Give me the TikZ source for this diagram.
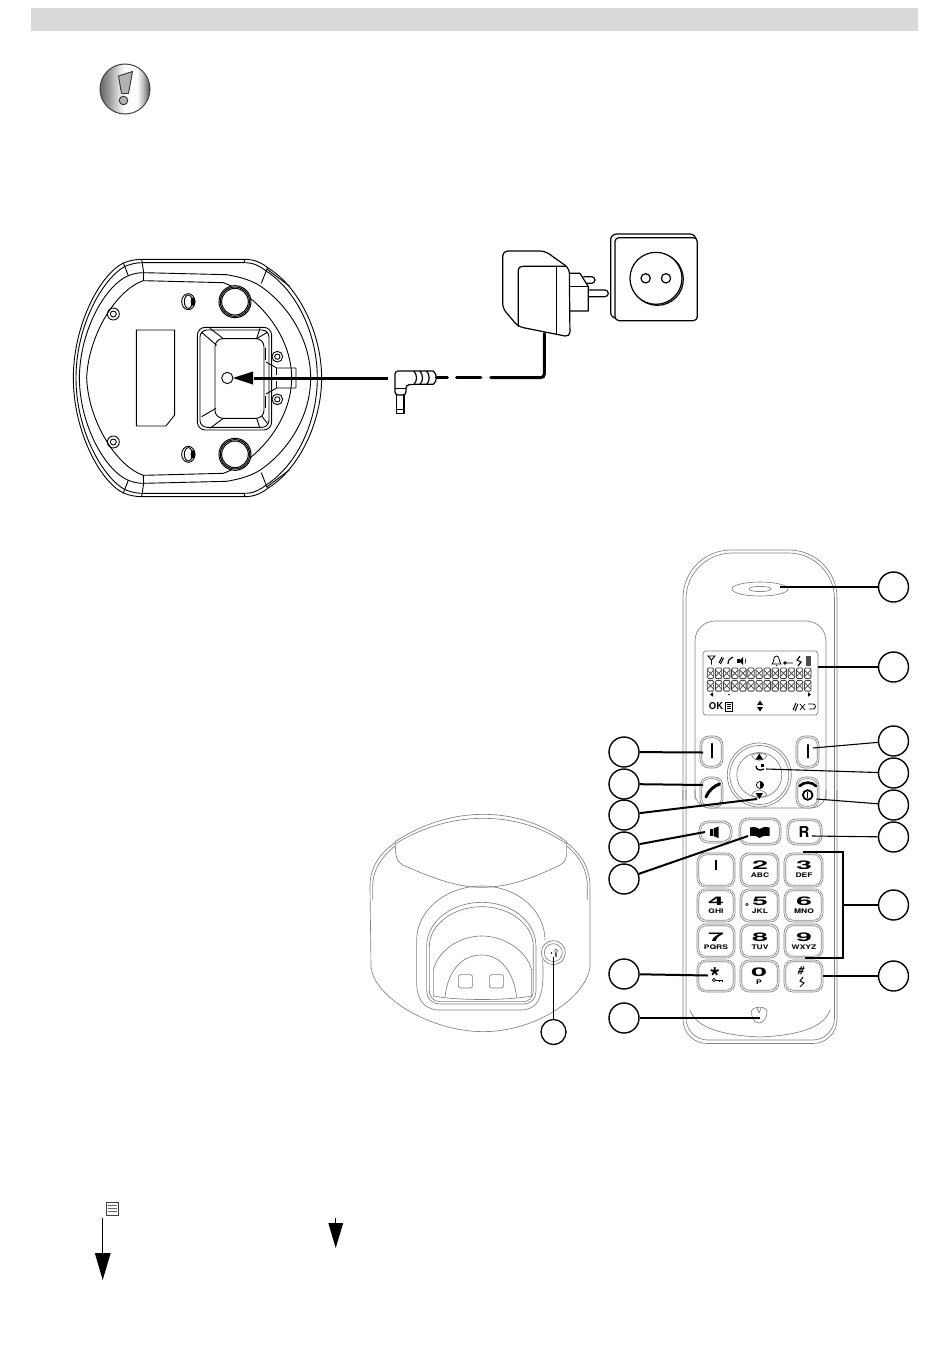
\documentclass[tikz,border=0pt]{standalone}
\usepackage{fontspec}
\setmainfont{TeX Gyre Heros}
\pgfdeclarehorizontalshading{warnshade}{100bp}{
  color(0bp)=(black!60);
  color(25bp)=(black!60);
  color(33bp)=(black!42);
  color(45bp)=(black!10);
  color(50bp)=(white);
  color(62bp)=(white);
  color(68bp)=(black!25);
  color(75bp)=(black!70);
  color(100bp)=(black!70)}
\tikzset{
  baseline/.style={line width=0.9pt,black,line join=round},
  handline/.style={line width=0.65pt,black!50,line join=round},
  keyline/.style={line width=0.65pt,black!50},
  callout/.style={circle,draw=black,line width=1.4pt,minimum size=30pt,inner sep=0pt,fill=white},
  smallcallout/.style={circle,draw=black,line width=1.3pt,minimum size=25pt,inner sep=0pt,fill=white},
  lead/.style={line width=2pt,black},
  thinlead/.style={line width=1.1pt,black},
  cable/.style={line width=3pt,black,line cap=round},
  glyph/.style={inner sep=0pt,font=\bfseries},
  klabel/.style={inner sep=0pt},
}
\newcommand{\keybox}[4]{%
  \draw[keyline,rounded corners=9pt,fill=white] (#1,#2) rectangle (#3,#4);
  \draw[keyline,rounded corners=7.5pt] (#1+1.8,#2+1.8) rectangle (#3-1.8,#4-1.8);}
\newcommand{\dg}[1]{\scalebox{2.05}[0.85]{\fontsize{14}{14}\selectfont\bfseries #1}}
\newcommand{\kl}[1]{\scalebox{1.35}[1]{\fontsize{6.3}{7}\selectfont\bfseries #1}}
\begin{document}
\begin{tikzpicture}[x=1pt,y=-1pt]
\useasboundingbox (0,0) rectangle (950,1372);
\fill[white] (0,0) rectangle (950,1372);
% header bar
\fill[black!15] (31,8) rectangle (918,31);
% warning icon
\shade[shading=warnshade] (125,89) circle (25);
\draw[line width=1pt,black!75] (125,89) circle (25);
\draw[line width=0.9pt,black!80,fill=black!30,line join=round] (118.5,76) -- (132.5,71.5) -- (128.5,93.5) -- (121.5,93.5) -- cycle;
\draw[line width=0.9pt,black!80,fill=black!30] (123.5,100.5) circle (4.3);

% ---------- base underside ----------
\foreach \s in {1,-1}{
\begin{scope}[shift={(60,378)},x=.3333pt,y=.3333pt,yscale=\s]
  \draw[baseline] (40,0) .. controls (40,160) and (120,310) .. (190,345) .. controls (210,353) and (228,356) .. (245,356) -- (555,356) .. controls (585,356) and (605,345) .. (625,330) .. controls (720,270) and (785,130) .. (785,0);
  \draw[baseline] (48,0) .. controls (48,160) and (130,300) .. (195,335) .. controls (215,343) and (230,346) .. (247,346) -- (553,346) .. controls (583,346) and (600,335) .. (620,320) .. controls (712,260) and (772,130) .. (772,0);
  \draw[baseline] (58,0) .. controls (60,150) and (140,280) .. (205,307) .. controls (220,313) and (235,316) .. (250,316) -- (500,310) .. controls (560,300) and (590,285) .. (612,268) .. controls (690,210) and (752,110) .. (752,0);
  \draw[baseline] (80,0) .. controls (85,130) and (170,265) .. (250,292) -- (490,286) .. controls (590,250) and (695,130) .. (695,0);
  \draw[baseline] (245,356) -- (251,316) -- (250,292);
  \draw[baseline] (555,356) -- (552,346);
  \draw[baseline] (622,330) -- (604,284);
  \draw[baseline] (622,326) -- (688,276);
  \draw[baseline] (190,345) -- (205,307);
  % foot
  \draw[line width=1pt,fill=white] (525,229) circle (48);
  \draw[line width=1pt] (525,229) circle (44);
  \draw[line width=1pt] (525,229) circle (40);
  % screws
  \draw[baseline] (160,192) circle (18);
  \draw[baseline] (160,192) circle (9);
  \draw[baseline,fill=white] (652,64) circle (16);
  \draw[baseline] (652,64) circle (8);
  % nub
  \draw[baseline] (385,229) ellipse (20 and 24);
  \fill[black] (399,229) ellipse (7 and 13);
  \draw[baseline] (385,229) ellipse (12 and 20);
  % notch
  \draw[baseline] (618,48) -- (650,30) -- (708,30) -- (708,0);
  \draw[baseline] (650,30) -- (650,10);
  \draw[baseline] (615,90) -- (615,55);
\end{scope}}
\begin{scope}[shift={(60,240)},x=.3333pt,y=-.3333pt]
  \draw[baseline] (229,270) -- (344,270) -- (344,525) -- (318,558) -- (229,558) -- cycle;
  \draw[baseline,rounded corners=8pt] (412,262) rectangle (635,570);
  \draw[baseline,rounded corners=7pt] (420,270) rectangle (627,562);
  \draw[baseline,rounded corners=8pt] (465,296) rectangle (612,535);
  \draw[baseline] (425,277) -- (470,316);
  \draw[baseline] (450,265) -- (490,296);
  \draw[baseline] (622,277) -- (590,296);
  \draw[baseline] (600,265) -- (590,296);
  \draw[baseline] (425,530) -- (468,505);
  \draw[baseline] (450,565) -- (490,535);
  \draw[baseline] (600,565) -- (590,535);
  \draw[baseline] (622,550) -- (605,528);
  \draw[baseline] (502,414) circle (17);
\end{scope}
% plug arrow
\coordinate (holeend) at (233,378);
\coordinate (cableA) at (388,378);
\draw[line width=3pt,black] (cableA) -- (254,378);
\fill[black] (holeend) -- (253,371.5) -- (253,384.5) -- cycle;

% ---------- adapter and socket ----------
\begin{scope}[shift={(380,225)},x=.3333pt,y=-.3333pt]
  \draw[baseline,line width=1.2pt,rounded corners=5pt] (368,78) -- (495,78) -- (568,130) -- (570,336) -- (415,305) -- (368,250) -- cycle;
  \draw[baseline,line width=1.2pt] (415,305) -- (415,135) .. controls (415,128) and (420,124) .. (428,124) -- (560,124);
  \draw[baseline,line width=1.2pt] (530,124) -- (530,328);
  \draw[baseline,line width=1.2pt] (570,145) -- (600,145) -- (625,185) -- (625,258) -- (570,258);
  \draw[baseline,line width=1.2pt] (570,185) -- (625,185);
  \draw[baseline,line width=1.2pt] (610,155) -- (635,155) arc (-90:90:10) -- (618,175);
  \draw[baseline,line width=1.2pt] (625,195) -- (675,195) arc (-90:90:10) -- (625,215);
  \draw[baseline,line width=1.2pt,rounded corners=6pt] (692,27) rectangle (948,280);
  \draw[baseline,line width=1.2pt,rounded corners=4pt,fill=white] (705,38) rectangle (952,287);
  \draw[baseline,line width=1.2pt] (832,163) circle (78);
  \draw[baseline,line width=1.2pt,fill=white] (828,160) circle (78);
  \draw[baseline,line width=1.2pt] (797,160) circle (14);
  \draw[baseline,line width=1.2pt] (858,160) circle (14);
  % cable
  \draw[cable] (170,458) -- (202,458);
  \draw[cable] (230,458) -- (303,458);
  \draw[cable,rounded corners=3.5pt] (332,458) -- (493,458) -- (493,326);
  % jack
  \draw[baseline,line width=1.2pt,rounded corners=3pt] (102,438) -- (45,438) -- (45,510) -- (78,510) -- (78,480) -- (102,478);
  \draw[baseline,line width=1.2pt] (45,490) -- (78,490);
  \draw[baseline,line width=1.2pt] (102,438) .. controls (112,450) and (112,468) .. (102,478);
  \draw[baseline,line width=1.2pt] (102,438) -- (160,438) .. controls (172,450) and (172,468) .. (160,478) -- (102,478);
  \draw[baseline,line width=1.2pt] (120,438) .. controls (130,450) and (130,468) .. (120,478);
  \draw[baseline,line width=1.2pt] (140,438) .. controls (150,450) and (150,468) .. (140,478);
  \draw[baseline,line width=1.2pt] (50,510) -- (50,565) -- (72,565) -- (72,510);
  \draw[baseline,line width=1pt] (50,555) -- (72,555);
\end{scope}

% ---------- base station (front) ----------
\begin{scope}[shift={(360,800)},x=.3333pt,y=-.3333pt,every path/.style={handline}]
  \draw (105,125) .. controls (190,70) and (280,43) .. (370,43) .. controls (460,43) and (545,70) .. (620,125);
  \draw (105,132) .. controls (190,80) and (280,55) .. (370,55) .. controls (460,55) and (545,80) .. (620,132);
  \draw (105,128) .. controls (60,160) and (30,200) .. (30,260) -- (33,500) .. controls (40,590) and (210,695) .. (370,695) .. controls (530,695) and (680,590) .. (690,500) -- (690,260) .. controls (690,200) and (660,160) .. (620,128);
  \draw (105,138) .. controls (65,170) and (38,210) .. (38,260) -- (38,300);
  \draw (620,138) .. controls (660,170) and (682,210) .. (682,260) -- (682,300);
  \draw (105,125) -- (108,165) .. controls (110,185) and (125,195) .. (140,200) .. controls (230,240) and (300,262) .. (365,262) .. controls (440,262) and (510,238) .. (590,200) .. controls (605,194) and (618,185) .. (620,165) -- (620,125);
  \draw (170,420) .. controls (170,330) and (260,258) .. (365,258) .. controls (470,258) and (555,330) .. (555,420);
  \draw (170,420) -- (170,550) .. controls (172,610) and (200,625) .. (230,630) -- (490,630) .. controls (530,625) and (555,600) .. (548,480);
  \draw (200,440) .. controls (200,360) and (280,307) .. (365,307) .. controls (450,307) and (528,360) .. (528,440) -- (528,570) .. controls (528,600) and (510,612) .. (490,612) -- (240,612) .. controls (220,612) and (200,600) .. (200,570) -- cycle;
  \draw (208,440) .. controls (208,370) and (285,320) .. (365,320) .. controls (445,320) and (520,370) .. (520,440) -- (520,570) .. controls (520,595) and (505,605) .. (490,605) -- (240,605) .. controls (225,605) and (208,595) .. (208,570) -- cycle;
  \draw (220,590) -- (220,510) .. controls (235,450) and (300,408) .. (365,408) .. controls (430,408) and (500,450) .. (515,510) -- (515,590);
  \draw (220,588) .. controls (290,602) and (440,602) .. (515,588);
  \draw (255,592) .. controls (262,520) and (300,465) .. (365,465) .. controls (425,465) and (462,520) .. (470,592);
  \draw[rounded corners=2.5pt] (295,524) rectangle (338,564);
  \draw[rounded corners=2.5pt] (388,524) rectangle (431,564);
  \draw[fill=white] (580,458) circle (36);
  \draw (580,458) circle (27);
\end{scope}
\fill[black] (551.5,953) circle (0.8);
\draw[line width=0.6pt,black!80] (555.5,949) .. controls (553.5,951) and (557,954) .. (555,957) (556.5,949) .. controls (559,951) and (555,954) .. (556.5,957);

% ---------- handset ----------
\draw[handline,rounded corners=48pt] (683,800) -- (683,550) -- (837,550) -- (837,800);
\draw[handline,rounded corners=46pt] (686,800) -- (686,553) -- (834.5,553) -- (834.5,800);
\draw[handline,rounded corners=24pt] (683,790) -- (683,1043.5) -- (837,1043.5) -- (837,790);
\draw[handline,rounded corners=22pt] (686,790) -- (686,1040) -- (834.5,1040) -- (834.5,790);
\draw[handline] (690,1010) .. controls (695,1025) and (715,1035) .. (760,1037) .. controls (805,1035) and (825,1025) .. (830,1010);
\draw[handline] (760,589) ellipse (28 and 7);
\draw[handline] (760,589) ellipse (11 and 2.6);
\draw[handline,rounded corners=20pt] (695,800) -- (695,621) -- (826,621) -- (826,800);
\draw[handline,rounded corners=15pt] (695,790) -- (695,808) -- (826,808) -- (826,790);
% display
\draw[handline,rounded corners=3pt] (703,651) rectangle (818,715);
\foreach \c in {0,...,12}{
  \foreach \r in {668,680.5}{
    \draw[black!75,line width=0.8pt,rounded corners=1.2pt] (707.3+8.1*\c,\r) rectangle (713.7+8.1*\c,\r+10.6);
    \draw[black!75,line width=0.7pt] (707.3+8.1*\c,\r+2) -- (713.7+8.1*\c,\r+8.6) (713.7+8.1*\c,\r+2) -- (707.3+8.1*\c,\r+8.6);
  }}
% display icons
\draw[line width=0.9pt] (708,656) -- (711.5,660) -- (715,656) -- cycle (711.5,660) -- (711.5,664.5);
\draw[line width=1pt] (719,663) -- (722,657) (720.5,664) -- (723.5,658);
\draw[line width=1.2pt] (728,664) .. controls (728,660) and (730,658) .. (733,657);
\fill (737,659) rectangle (740,663);
\fill (739,661) -- (743,657) -- (743,665) -- cycle;
\draw[line width=0.6pt] (745,658.5) .. controls (746,660) and (746,662) .. (745,663.5);
\draw[line width=0.8pt] (772,664) .. controls (774.5,662) and (773,656) .. (776.5,656) .. controls (780,656) and (778.5,662) .. (781,664) -- cycle;
\draw[line width=0.8pt] (776.5,664.5) -- (776.5,666);
\draw[line width=0.8pt] (785,663) -- (793,663) (785,663) circle (1.3);
\draw[line width=1.1pt] (800,656) -- (797,660) -- (801,662) -- (798,666);
\fill[black!70] (806,656) rectangle (811,666);
\fill (710,694.5) -- (713,692.3) -- (713,696.7) -- cycle;
\fill (729,694.5) circle (0.9);
\fill (811,694.5) -- (808,692.3) -- (808,696.7) -- cycle;
\node[glyph,font=\bfseries\fontsize{9.5}{10}\selectfont] (oktxt) at (716,706.5) {OK};
\draw[line width=0.7pt] (725.5,702) rectangle (732.5,711);
\draw[line width=0.5pt] (727,704) -- (731,704) (727,706) -- (731,706) (727,708) -- (731,708);
\fill (760,700.5) -- (763,705) -- (757,705) -- cycle;
\fill (760,711.5) -- (763,707) -- (757,707) -- cycle;
\draw[line width=1pt] (793,710) -- (796,703) (795,711) -- (798,704);
\draw[line width=0.7pt] (800,704) -- (805,710) (805,704) -- (800,710);
\draw[line width=0.8pt] (808,704) -- (813,704) arc (-90:90:2.5) -- (809,709);

% nav ring
\draw[handline,fill=white] (759.3,775) circle (32);
\draw[handline] (759.3,775) circle (29.5);
\draw[handline] (759.3,775) circle (22.5);
\draw[handline] (751.5,755.5) .. controls (755,752.5) and (763.5,752.5) .. (767,755.5);
\draw[handline] (751.5,755.5) .. controls (755,762) and (763.5,762) .. (767,755.5);
\draw[handline] (751.5,795) .. controls (755,798) and (763.5,798) .. (767,795);
\draw[handline] (751.5,795) .. controls (755,788.5) and (763.5,788.5) .. (767,795);
\fill (759.3,753.5) -- (763,759.5) -- (755.6,759.5) -- cycle;
\fill (759.3,799) -- (763,793) -- (755.6,793) -- cycle;
\draw[line width=1.3pt] (756,766) .. controls (756,770) and (760,771) .. (764,769);
\fill (761,763.5) rectangle (763.5,767);
\draw[line width=0.7pt,fill=white] (760,785) circle (3.6);
\fill (760,781.4) arc (-90:90:3.6) -- cycle;

% soft keys
\keybox{700}{736}{723}{768}
\keybox{796}{736}{819}{768}
\keybox{700}{777}{723}{808}
\keybox{796}{777}{819}{808}
\draw[line width=2.2pt,line cap=round] (711.7,744) -- (711.7,757.5);
\draw[line width=2.2pt,line cap=round] (807.7,745) -- (807.7,757.5);
\draw[line width=3pt,line cap=round] (706,797) .. controls (709,790) and (714,786) .. (719.5,784);
\draw[line width=2.6pt,line cap=round] (799.5,786) .. controls (804,781.5) and (811.5,781.5) .. (816,786);
\draw[line width=1.8pt] (807.7,795) circle (4.8);
\draw[line width=1.3pt] (807.7,792) -- (807.7,798);
% second row
\keybox{699}{821}{732}{843}
\keybox{739}{818}{781}{845}
\keybox{787}{819}{822}{845}
\fill (710,829) rectangle (713,835.5);
\fill (713.5,828.5) -- (718.5,826.5) -- (718.5,838) -- (713.5,836) -- cycle;
\fill (759.5,829) .. controls (755,826.5) and (752,826.5) .. (750,827.5) -- (750,836) .. controls (753,835.5) and (756,835.5) .. (759.5,838) .. controls (763,835.5) and (766,835.5) .. (769.5,836) -- (769.5,827.5) .. controls (767,826.5) and (764,826.5) .. (759.5,829) -- cycle;
\node[glyph,font=\bfseries\fontsize{15}{15}\selectfont] (rkey) at (804,832) {R};

% keypad
\foreach \x/\y/\xx/\yy in {697/853/735/887,740/853/779/887,784/853/823/887,
  697/889/735/922,740/889/779/922,784/889/823/922,
  697/924/735/958,740/924/779/958,784/924/823/958,
  697/960/735/992,740/960/779/992,784/960/823/992}{
  \keybox{\x}{\y}{\xx}{\yy}
}
\draw[line width=2.6pt] (716,860) -- (716,870);
\node[glyph] (d2) at (760,865) {\dg{2}};
\node[glyph] (d3) at (804,865) {\dg{3}};
\node[klabel] (l2) at (760,875.5) {\kl{ABC}};
\node[klabel] (l3) at (804,875.5) {\kl{DEF}};
\node[glyph] (d4) at (716,901) {\dg{4}};
\node[glyph] (d5) at (760,901) {\dg{5}};
\node[glyph] (d6) at (804,901) {\dg{6}};
\node[klabel] (l4) at (716,911) {\kl{GHI}};
\node[klabel] (l5) at (760,911) {\kl{JKL}};
\node[klabel] (l6) at (804,911) {\kl{MNO}};
\draw[line width=0.6pt] (747,904.5) circle (1.3);
\node[glyph] (d7) at (716,937) {\dg{7}};
\node[glyph] (d8) at (760,937) {\dg{8}};
\node[glyph] (d9) at (804,937) {\dg{9}};
\node[klabel] (l7) at (716,947) {\kl{PQRS}};
\node[klabel] (l8) at (760,947) {\kl{TUV}};
\node[klabel] (l9) at (804,947) {\kl{WXYZ}};
\node[glyph,font=\bfseries\fontsize{26}{26}\selectfont] (star) at (715,977) {*};
\draw[line width=0.8pt] (716,980) -- (722,980) (722,980) -- (722,982) (719,980) -- (719,982);
\draw[line width=0.8pt] (714,980) circle (1.6);
\node[glyph] (d0) at (759,972) {\dg{0}};
\node[klabel] (l0) at (759,982.5) {\kl{P}};
\node[glyph,font=\bfseries\itshape\fontsize{11}{11}\selectfont] (hash) at (801,971) {\#};
\draw[line width=1pt] (803,977) -- (800,981) -- (804,983) -- (800,987);
% mic
\draw[handline] (751.5,1011) .. controls (751,1018) and (755,1023) .. (759,1023) .. controls (763,1023) and (767.5,1018) .. (767,1011) .. controls (766,1006) and (753,1006) .. (751.5,1011) -- cycle;
\draw[handline] (757,1008) -- (759,1013) -- (761,1008);

% ---------- callouts ----------
\node[callout] (r1) at (893.5,587) {};
\node[callout] (r2) at (893.5,667) {};
\node[callout] (r3) at (893.5,741) {};
\node[callout] (r4) at (893.5,773) {};
\node[callout] (r5) at (893.5,805) {};
\node[callout] (r6) at (893.5,837) {};
\node[callout] (r7) at (893.5,905) {};
\node[callout] (r8) at (893.5,976) {};
\node[callout] (l1) at (624,752) {};
\node[callout] (ll2) at (624,784) {};
\node[callout] (ll3) at (624,815) {};
\node[callout] (ll4) at (624,847) {};
\node[callout] (ll5) at (624,879) {};
\node[callout] (ll6) at (624,974) {};
\node[callout] (ll7) at (624,1018) {};
\node[smallcallout] (bs) at (553.5,1032) {};
\coordinate (tr1) at (780,587);
\coordinate (tr2) at (818,667);
\coordinate (tr3) at (813,748);
\coordinate (tr4) at (766,769);
\coordinate (tr5) at (816.5,799);
\coordinate (tr6) at (812,836);
\coordinate (tr7) at (843,905);
\coordinate (tr8) at (823,976);
\coordinate (tl1) at (703,752.5);
\coordinate (tl2) at (703,785);
\coordinate (tl3) at (757,799);
\coordinate (tl4) at (705,832);
\coordinate (tl5) at (748,836);
\coordinate (tl6) at (708,975.5);
\coordinate (tl7) at (760,1018);
\coordinate (tbs) at (553.5,957);
\draw[lead] (r1) -- (tr1);
\draw[thinlead] (r2) -- (tr2);
\draw[thinlead] (r3) -- (tr3);
\draw[thinlead] (r4) -- (tr4);
\draw[thinlead] (r5) -- (tr5);
\draw[thinlead] (r6) -- (tr6);
\draw[thinlead] (r8) -- (tr8);
\draw[lead] (r7) -- (tr7);
\draw[lead,line join=miter] (803,852) -- (843,852) -- (843,958) -- (805,958);
\draw[lead] (l1) -- (tl1);
\draw[lead] (ll2) -- (tl2);
\draw[lead] (ll3) -- (tl3);
\draw[lead] (ll4) -- (tl4);
\draw[lead] (ll5) -- (tl5);
\draw[lead] (ll6) -- (tl6);
\draw[lead] (ll7) -- (tl7);
\draw[thinlead] (bs) -- (tbs);

% ---------- bottom symbols ----------
\draw[line width=0.9pt,black!75] (106,1202) rectangle (118.5,1215);
\draw[line width=0.7pt,black!60] (108,1205) -- (116.5,1205) (108,1208) -- (116.5,1208) (108,1211) -- (116.5,1211);
\coordinate (a1s) at (102.7,1218);
\coordinate (a1e) at (102.7,1254);
\draw[line width=1.1pt] (a1s) -- (a1e);
\fill (94.8,1253) -- (110.7,1253) -- (102.7,1280) -- cycle;
\coordinate (a2s) at (335.7,1218);
\coordinate (a2e) at (335.7,1224);
\draw[line width=1pt] (a2s) -- (a2e);
\fill (328.3,1223) -- (343.2,1223) -- (335.7,1248) -- cycle;
\end{tikzpicture}
\end{document}
